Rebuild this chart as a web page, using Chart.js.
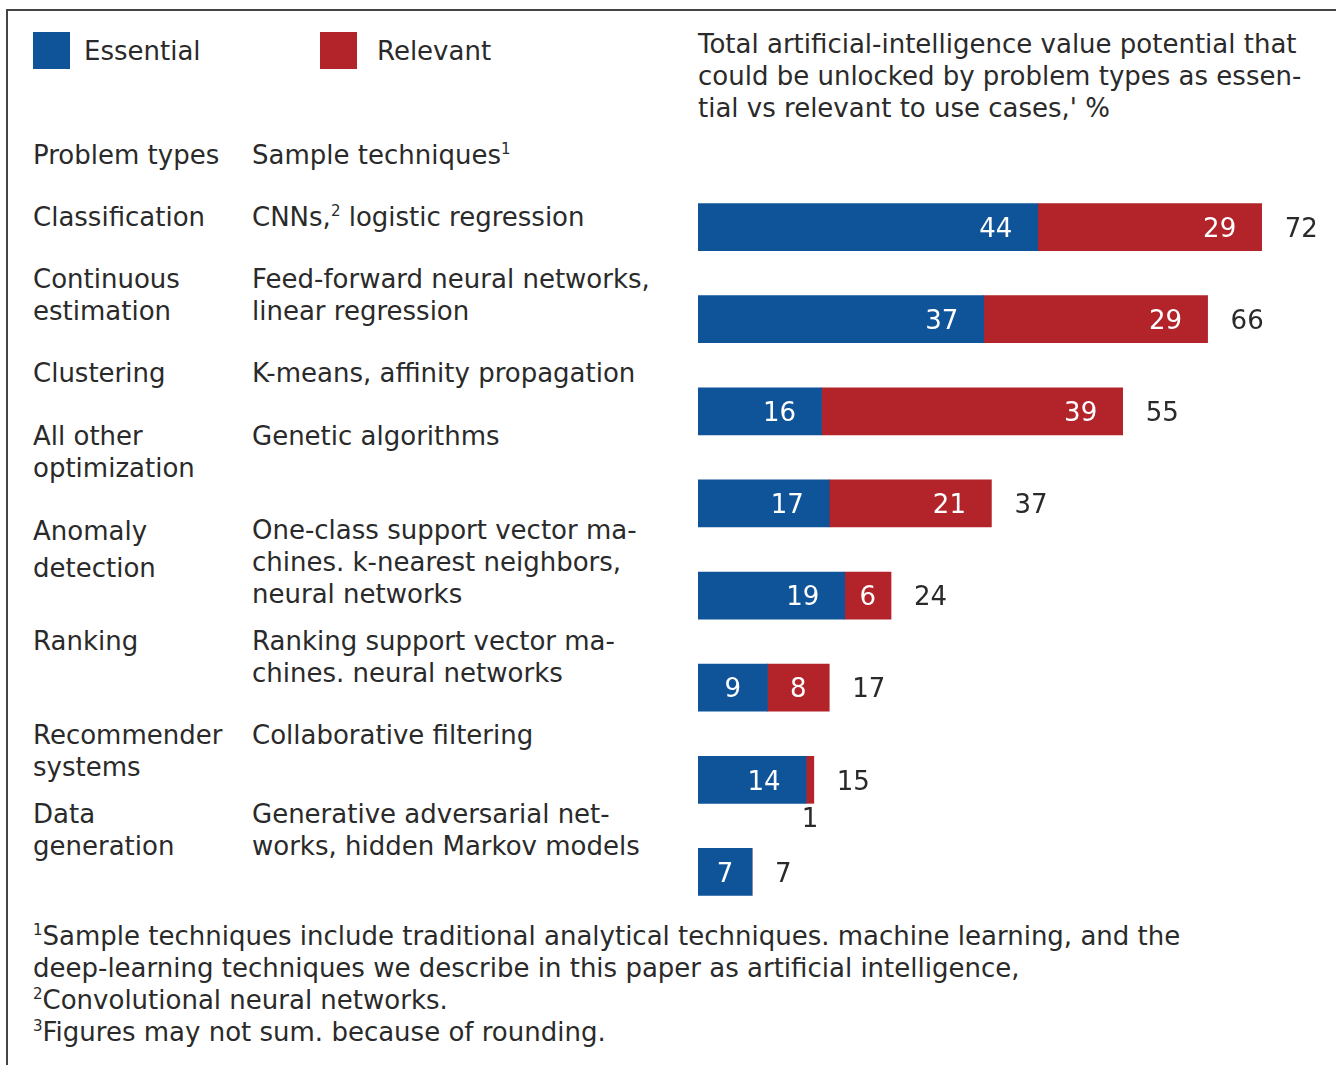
<!DOCTYPE html>
<html>
<head>
<meta charset="utf-8">
<script src="https://cdn.jsdelivr.net/npm/chart.js@4.4.0/dist/chart.umd.min.js"></script>
<style>
  html, body { margin: 0; padding: 0; background: #fff; overflow: hidden; }
  #page {
    position: relative; width: 1336px; height: 1065px;
    font-family: "DejaVu Sans", sans-serif; font-size: 26px; color: #2a2a2a;
  }
  #frameTop { position: absolute; left: 6px; top: 9px; width: 1330px; height: 2px; background: #444; }
  #frameLeft { position: absolute; left: 6px; top: 9px; width: 2px; height: 1056px; background: #444; }
  .t { position: absolute; line-height: 32px; white-space: nowrap; }
  .sw { position: absolute; width: 37px; height: 37px; }
  .sup { font-size: 15px; line-height: 0; position: relative; top: -10px; }
  #chartBox { position: absolute; left: 698px; top: 181px; width: 637px; height: 737px; }
</style>
</head>
<body>
<div id="page">
  <div id="frameTop"></div>
  <div id="frameLeft"></div>

  <div class="sw" style="left:33px;top:32px;background:#0f5399"></div>
  <div class="t" style="left:84px;top:35px">Essential</div>
  <div class="sw" style="left:320px;top:32px;background:#b2232a"></div>
  <div class="t" style="left:377px;top:35px">Relevant</div>

  <div class="t" style="left:698px;top:28px">Total artificial-intelligence value potential that<br>could be unlocked by problem types as essen-<br>tial vs relevant to use cases,' %</div>

  <div class="t" style="left:33px;top:139px">Problem types</div>
  <div class="t" style="left:252px;top:139px">Sample techniques<span class="sup">1</span></div>

  <div id="rows"></div>

  <div class="t" style="left:33px;top:920px"><span class="sup">1</span>Sample techniques include traditional analytical techniques. machine learning, and the<br>deep-learning techniques we describe in this paper as artificial intelligence,<br><span class="sup">2</span>Convolutional neural networks.<br><span class="sup">3</span>Figures may not sum. because of rounding.</div>

  <div id="chartBox"><canvas id="valueChart"></canvas></div>
</div>

<script>
// dados do gráfico
const problemTypes = ['Classification', 'Continuous estimation', 'Clustering', 'All other optimization',
  'Anomaly detection', 'Ranking', 'Recommender systems', 'Data generation'];
const essential = [44, 37, 16, 17, 19, 9, 14, 7];
const relevant = [29, 29, 39, 21, 6, 8, 1, 0];
const totals = [72, 66, 55, 37, 24, 17, 15, 7];

// texto da tabela da esquerda (tipo / técnicas), com quebras de linha
const typeLines = [
  ['Classification'],
  ['Continuous', 'estimation'],
  ['Clustering'],
  ['All other', 'optimization'],
  ['Anomaly', 'detection'],
  ['Ranking'],
  ['Recommender', 'systems'],
  ['Data', 'generation']
];
const techLines = [
  ['CNNs,<span class="sup">2</span> logistic regression'],
  ['Feed-forward neural networks,', 'linear regression'],
  ['K-means, affinity propagation'],
  ['Genetic algorithms'],
  ['One-class support vector ma-', 'chines. k-nearest neighbors,', 'neural networks'],
  ['Ranking support vector ma-', 'chines. neural networks'],
  ['Collaborative filtering'],
  ['Generative adversarial net-', 'works, hidden Markov models']
];
const rowTops = [201, 263, 357, 420, 513, 625, 719, 798];

const ESSENTIAL_COLOR = '#0f5399';
const RELEVANT_COLOR = '#b2232a';

// monta as linhas da tabela
const rowsDiv = document.getElementById('rows');
typeLines.forEach((lines, i) => {
  const a = document.createElement('div');
  a.className = 't';
  a.style.left = '33px';
  a.style.top = rowTops[i] + 'px';
  a.innerHTML = lines.join('<br>');
  if (i === 4) a.style.lineHeight = '37px';
  rowsDiv.appendChild(a);

  const b = document.createElement('div');
  b.className = 't';
  b.style.left = '252px';
  b.style.top = (i === 4 ? rowTops[i] + 1 : rowTops[i]) + 'px';
  b.innerHTML = techLines[i].join('<br>');
  rowsDiv.appendChild(b);
});

// rótulos dentro das barras e totais
const barLabels = {
  id: 'barLabels',
  afterDatasetsDraw(chart) {
    const ctx = chart.ctx;
    const xs = chart.scales.x;
    ctx.save();
    ctx.font = '26px "DejaVu Sans", sans-serif';
    ctx.textBaseline = 'middle';
    ctx.textAlign = 'center';
    chart.data.datasets.forEach((ds, d) => {
      const meta = chart.getDatasetMeta(d);
      meta.data.forEach((bar, i) => {
        const v = ds.data[i];
        if (!v) return;
        const start = bar.base, end = bar.x;
        const w = end - start;
        if (w < 20) {
          // segmento pequeno: número abaixo da barra
          ctx.fillStyle = '#2a2a2a';
          ctx.textBaseline = 'top';
          ctx.fillText(String(v), (start + end) / 2, bar.y + bar.height / 2 + 4);
          ctx.textBaseline = 'middle';
          return;
        }
        const cx = Math.max((start + end) / 2, end - 42);
        ctx.fillStyle = '#ffffff';
        ctx.fillText(String(v), cx, bar.y + 3);
      });
    });
    // totais à direita
    ctx.fillStyle = '#2a2a2a';
    ctx.textAlign = 'left';
    const meta0 = chart.getDatasetMeta(0);
    totals.forEach((t, i) => {
      const x = xs.getPixelForValue(essential[i] + relevant[i]) + 23;
      ctx.fillText(String(t), x, meta0.data[i].y + 3);
    });
    ctx.restore();
  }
};

new Chart(document.getElementById('valueChart'), {
  type: 'bar',
  data: {
    labels: problemTypes,
    datasets: [
      { label: 'Essential', data: essential, backgroundColor: ESSENTIAL_COLOR, barThickness: 47 },
      { label: 'Relevant', data: relevant, backgroundColor: RELEVANT_COLOR, barThickness: 47 }
    ]
  },
  options: {
    indexAxis: 'y',
    responsive: true,
    maintainAspectRatio: false,
    animation: false,
    layout: { padding: 0 },
    plugins: { legend: { display: false }, tooltip: { enabled: false } },
    scales: {
      x: { stacked: true, min: 0, max: 82.5, display: false },
      y: { stacked: true, display: false }
    }
  },
  plugins: [barLabels]
});
</script>
</body>
</html>
